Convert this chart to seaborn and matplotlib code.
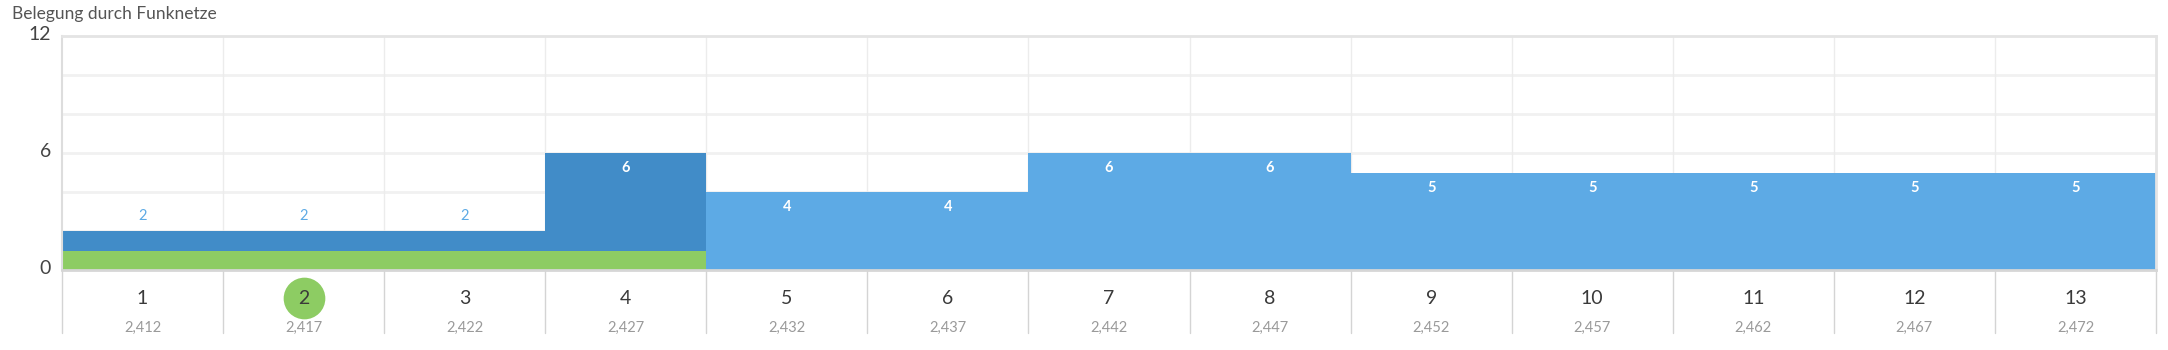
import matplotlib
matplotlib.use("Agg")
import matplotlib.pyplot as plt
import matplotlib.transforms as mtransforms
import seaborn as sns
import pandas as pd
import numpy as np

# ---- data ----
channels = ["1", "2", "3", "4", "5", "6", "7", "8", "9", "10", "11", "12", "13"]
frequencies = ["2,412", "2,417", "2,422", "2,427", "2,432", "2,437", "2,442",
               "2,447", "2,452", "2,457", "2,462", "2,467", "2,472"]
own_network = [1, 1, 1, 1, 0, 0, 0, 0, 0, 0, 0, 0, 0]
overlapping = [1, 1, 1, 5, 0, 0, 0, 0, 0, 0, 0, 0, 0]
other_networks = [0, 0, 0, 0, 4, 4, 6, 6, 5, 5, 5, 5, 5]
active_channel = "2"
title = "Belegung durch Funknetze"
y_tick_values = [0, 6, 12]

GREEN = "#8DCC63"
DARK_BLUE = "#418CC8"
LIGHT_BLUE = "#5DAAE5"

df = pd.DataFrame({
    "channel": channels,
    "own": own_network,
    "overlap_total": np.array(own_network) + np.array(overlapping),
    "other": other_networks,
})
totals = df["overlap_total"] + df["other"]

sns.set_theme(style="white")
plt.rcParams["font.family"] = ["Lato", "DejaVu Sans"]

W, H = 2168, 350
fig = plt.figure(figsize=(W / 100, H / 100), dpi=100)
ax = fig.add_axes([62 / W, (H - 270) / H, (2156 - 62) / W, (270 - 36) / H])

kw = dict(order=channels, width=1.0, linewidth=0, saturation=1, ax=ax, zorder=3)
sns.barplot(data=df, x="channel", y="other", color=LIGHT_BLUE, **kw)
sns.barplot(data=df, x="channel", y="overlap_total", color=DARK_BLUE, **kw)
sns.barplot(data=df, x="channel", y="own", color=GREEN, **kw)

ax.set_xlim(-0.5, len(channels) - 0.5)
ax.set_ylim(0, 12)
ax.set_xlabel("")
ax.set_ylabel("")

# grid
for yv in [2, 4, 6, 8, 10]:
    ax.axhline(yv, color="#f1f1f1", lw=2, zorder=1)
for i in range(1, len(channels)):
    ax.axvline(i - 0.5, color="#ececec", lw=1, zorder=1)

# spines
for s in ["top", "right"]:
    ax.spines[s].set_color("#e4e4e4")
    ax.spines[s].set_linewidth(2)
ax.spines["left"].set_color("#dddddd")
ax.spines["left"].set_linewidth(1.5)
ax.spines["bottom"].set_color("#d6d6d6")
ax.spines["bottom"].set_linewidth(2)
for s in ax.spines.values():
    s.set_zorder(5)

# y ticks
ax.set_yticks(y_tick_values)
ax.set_yticklabels([str(v) for v in y_tick_values], fontsize=14, color="#444444")
ax.tick_params(axis="y", length=0, pad=8)
shift = mtransforms.ScaledTranslation(0, 3 / 100, fig.dpi_scale_trans)
for lbl in ax.get_yticklabels():
    lbl.set_transform(lbl.get_transform() + shift)

ax.set_xticks([])

trans = mtransforms.blended_transform_factory(ax.transData, ax.transAxes)
px = 1 / 234.0
# separators below the axis
for i in range(len(channels) + 1):
    ax.plot([i - 0.5, i - 0.5], [0, -63 * px], color="#d4d4d4", lw=1,
            transform=trans, clip_on=False, zorder=2)
# channel numbers and frequencies
for i, (c, f) in enumerate(zip(channels, frequencies)):
    ax.text(i, -29 * px, c, transform=trans, ha="center", va="center",
            fontsize=14, color="#3a3a3a", zorder=8)
    ax.text(i, -58 * px, f, transform=trans, ha="center", va="center",
            fontsize=10.5, color="#9a9a9a", zorder=8)

# active channel marker
ai = channels.index(active_channel)
ax.plot([ai], [-28 * px], "o", ms=30, color=GREEN, markeredgewidth=0,
        transform=trans, clip_on=False, zorder=7)

# value labels
for i, t in enumerate(totals):
    if t < 3:
        ax.annotate(str(t), (i, t), xytext=(0, 6), textcoords="offset points",
                    ha="center", va="bottom", fontsize=10.5, color=LIGHT_BLUE, zorder=6)
    else:
        ax.annotate(str(t), (i, t), xytext=(0, -11), textcoords="offset points",
                    ha="center", va="center", fontsize=10.5, color="white",
                    fontweight="bold", zorder=6)

fig.text(12 / W, 1 - 14 / H, title, ha="left", va="center", fontsize=12.5, color="#555555")

fig.savefig("out.png", dpi=100)
